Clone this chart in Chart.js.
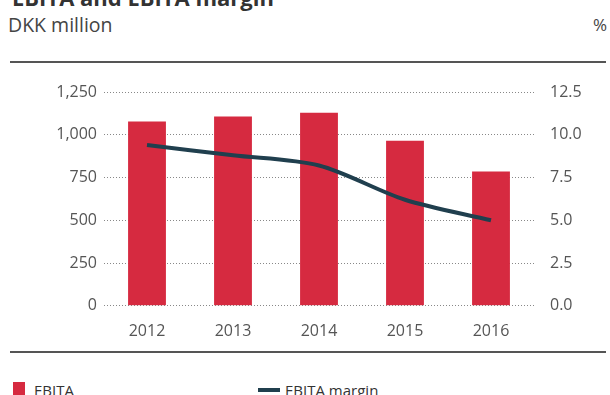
<!DOCTYPE html>
<html>
<head>
<meta charset="utf-8">
<script src="https://cdn.jsdelivr.net/npm/chart.js@4"></script>
<style>
  body { margin: 0; background: #fff; font-family: "Open Sans", sans-serif; color: #444; }
  #wrap { position: relative; width: 610px; height: 395px; overflow: hidden; }
  .title { position: absolute; left: 12px; top: -18px; font-size: 22px; font-weight: bold; color: #333; }
  .unit { position: absolute; top: 11px; font-size: 19.5px; color: #444; }
  .rule { position: absolute; left: 10px; width: 596px; height: 2px; background: #555; }
  #chartBox { position: absolute; left: 0; top: 70px; width: 610px; height: 279px; }
  .leg { position: absolute; top: 380px; font-size: 15px; color: #333; }
  .sw { position: absolute; }
</style>
</head>
<body>
<div id="wrap">
  <div class="title">EBITA and EBITA margin</div>
  <div class="unit" style="left:8px">DKK million</div>
  <div class="unit" style="left:593px;font-size:17px;top:13px">%</div>
  <div class="rule" style="top:61px"></div>
  <div id="chartBox"><canvas id="mycanvas"></canvas></div>
  <div class="rule" style="top:351px"></div>
  <div class="sw" style="left:13px;top:382px;width:12px;height:14px;background:#d62a40"></div>
  <div class="leg" style="left:34px">EBITA</div>
  <div class="sw" style="left:258px;top:388px;width:22px;height:4px;background:#203f4e"></div>
  <div class="leg" style="left:285px">EBITA margin</div>
</div>
<script>
var years = ["2012", "2013", "2014", "2015", "2016"];
var ebita = [1078, 1107, 1129, 965, 785];
var margin = [9.4, 8.8, 8.2, 6.2, 5.0];
var leftTicks = [0, 250, 500, 750, 1000, 1250];
var rightTicks = [0, 2.5, 5, 7.5, 10, 12.5];

var tickFont = { family: "Open Sans", size: 16 };

function loadGraph() {
  var ctx = document.getElementById("mycanvas").getContext("2d");
  new Chart(ctx, {
    data: {
      labels: years,
      datasets: [{
        type: "line",
        label: "EBITA margin",
        data: margin,
        yAxisID: "y1",
        borderColor: "#203f4e",
        borderWidth: 4,
        pointRadius: 0,
        tension: 0.3,
        order: 0
      }, {
        type: "bar",
        label: "EBITA",
        data: ebita,
        yAxisID: "y",
        backgroundColor: "#d62a40",
        categoryPercentage: 1,
        barPercentage: 0.44,
        order: 1
      }]
    },
    options: {
      responsive: true,
      maintainAspectRatio: false,
      animation: false,
      layout: { padding: { top: 22 } },
      plugins: { legend: { display: false }, tooltip: { enabled: false } },
      scales: {
        x: {
          grid: { display: false },
          border: { display: false },
          ticks: { font: tickFont, color: "#555", padding: 8 }
        },
        y: {
          position: "left",
          min: 0, max: 1250,
          afterBuildTicks: function (s) { s.ticks = leftTicks.map(function (v) { return { value: v }; }); },
          afterFit: function (s) { s.width = 104; },
          grid: { color: "#888", lineWidth: 1, drawTicks: false },
          border: { display: false, dash: [1, 2] },
          ticks: {
            font: tickFont, color: "#555", padding: 7,
            callback: function (v) { return v.toLocaleString("en-US"); }
          }
        },
        y1: {
          position: "right",
          min: 0, max: 12.5,
          afterBuildTicks: function (s) { s.ticks = rightTicks.map(function (v) { return { value: v }; }); },
          afterFit: function (s) { s.width = 76; },
          grid: { display: false },
          border: { display: false },
          ticks: {
            font: tickFont, color: "#555", padding: 8,
            callback: function (v) { return v.toFixed(1); }
          }
        }
      }
    }
  });
}

loadGraph();
</script>
</body>
</html>
